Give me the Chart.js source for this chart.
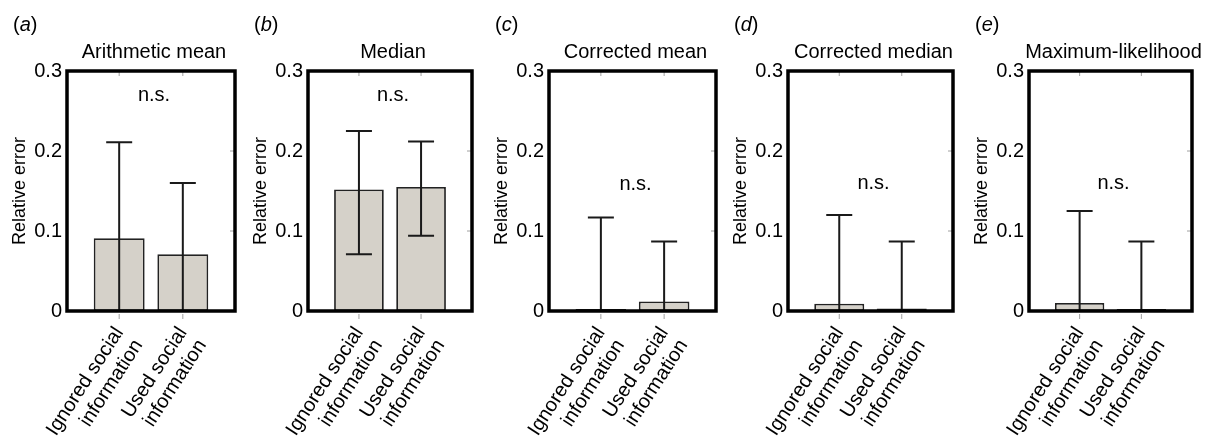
<!DOCTYPE html>
<html><head><meta charset="utf-8">
<script src="https://cdn.jsdelivr.net/npm/chart.js@4.4.0/dist/chart.umd.min.js"></script>
<style>
html,body{margin:0;padding:0;background:#fff;}
#wrap{position:relative;width:1211px;height:444px;overflow:hidden;background:#fff;}
canvas{position:absolute;top:0;}
</style></head><body><div id="wrap"></div>
<script>
// ---- data ----
const categories = [['Ignored social', 'information'], ['Used social', 'information']];
const panelLetters = ['a', 'b', 'c', 'd', 'e'];
const panelTitles = ['Arithmetic mean', 'Median', 'Corrected mean', 'Corrected median', 'Maximum-likelihood'];
const ignoredValues = [0.091, 0.152, 0.001, 0.009, 0.010];
const usedValues    = [0.071, 0.155, 0.012, 0.003, 0.001];
const ignoredLower  = [-0.03, 0.071, -0.114, -0.102, -0.105];
const ignoredUpper  = [0.211, 0.225, 0.117, 0.120, 0.125];
const usedLower     = [-0.02, 0.094, -0.063, -0.081, -0.085];
const usedUpper     = [0.160, 0.212, 0.087, 0.087, 0.087];
const yTickValues   = [0, 0.1, 0.2, 0.3];
const nsLevel       = [0.270, 0.270, 0.158, 0.160, 0.160];

// ---- style / layout ----
const FONT = '"Liberation Sans", Arial, Helvetica, sans-serif';
const panelBoxes = [{left: 0, w: 168}, {left: 241, w: 164}, {left: 482, w: 167}, {left: 721, w: 165}, {left: 962, w: 163}];
const AXIS_W = 67, CANVAS_H = 444, X_AXIS_H = 133, PAD_R = 2, TOP = 71, EXTRA = 40;

const panelPlugin = {
  id: 'panelDeco',
  afterDatasetsDraw(chart, args, opts) {
    const {ctx, chartArea: a, scales: {x, y}} = chart;
    // error bars
    ctx.save();
    ctx.beginPath();
    ctx.rect(a.left, a.top, a.right - a.left, a.bottom - a.top);
    ctx.clip();
    ctx.strokeStyle = '#1a1a1a';
    ctx.lineWidth = 2;
    const meta = chart.getDatasetMeta(0);
    meta.data.forEach((bar, i) => {
      const lo = y.getPixelForValue(opts.lower[i]);
      const hi = y.getPixelForValue(opts.upper[i]);
      const cx = bar.x, cap = 13;
      ctx.beginPath();
      ctx.moveTo(cx, lo); ctx.lineTo(cx, hi);
      ctx.moveTo(cx - cap, hi); ctx.lineTo(cx + cap, hi);
      ctx.moveTo(cx - cap, lo); ctx.lineTo(cx + cap, lo);
      ctx.stroke();
    });
    ctx.restore();

    // n.s. label
    ctx.save();
    ctx.fillStyle = '#000';
    ctx.font = '20px ' + FONT;
    ctx.textAlign = 'center';
    ctx.textBaseline = 'middle';
    ctx.fillText('n.s.', x.getPixelForValue(1.5) + 3, y.getPixelForValue(opts.ns));
    ctx.restore();

    // faint inner ticks
    ctx.save();
    ctx.strokeStyle = '#a0a0a0';
    ctx.lineWidth = 1;
    ctx.beginPath();
    [1, 2].forEach(v => {
      const px = x.getPixelForValue(v);
      ctx.moveTo(px, a.top); ctx.lineTo(px, a.top + 5);
      ctx.moveTo(px, a.bottom + 3); ctx.lineTo(px, a.bottom + 8);
    });
    [0.1, 0.2].forEach(v => {
      const py = y.getPixelForValue(v);
      ctx.moveTo(a.right, py); ctx.lineTo(a.right - 5, py);
    });
    ctx.stroke();
    ctx.restore();

    // frame
    ctx.save();
    ctx.strokeStyle = '#000';
    ctx.lineWidth = 3.5;
    ctx.strokeRect(a.left, a.top, a.right - a.left, a.bottom - a.top);
    ctx.restore();

    // panel title
    ctx.save();
    ctx.fillStyle = '#000';
    ctx.font = '20px ' + FONT;
    ctx.textAlign = 'center';
    ctx.textBaseline = 'middle';
    ctx.fillText(opts.title, (a.left + a.right) / 2 + 3, 52);
    ctx.restore();

    // panel letter "(a)"
    ctx.save();
    ctx.fillStyle = '#000';
    ctx.textBaseline = 'middle';
    ctx.textAlign = 'left';
    let px = 13;
    const py = 25;
    ctx.font = '20px ' + FONT;
    ctx.fillText('(', px, py); px += ctx.measureText('(').width;
    ctx.font = 'italic 20px ' + FONT;
    ctx.fillText(opts.letter, px, py); px += ctx.measureText(opts.letter).width;
    ctx.font = '20px ' + FONT;
    ctx.fillText(')', px, py);
    ctx.restore();
  }
};

const wrap = document.getElementById('wrap');
panelTitles.forEach((title, p) => {
  const box = panelBoxes[p];
  const canvas = document.createElement('canvas');
  const cw = AXIS_W + box.w + PAD_R + EXTRA;
  canvas.width = cw; canvas.height = CANVAS_H;
  canvas.style.left = box.left + 'px';
  canvas.style.width = cw + 'px'; canvas.style.height = CANVAS_H + 'px';
  wrap.appendChild(canvas);

  const values = [ignoredValues[p], usedValues[p]];
  new Chart(canvas, {
    type: 'bar',
    data: {
      datasets: [{
        data: values.map((v, i) => ({x: i + 1, y: v})),
        backgroundColor: '#d5d1c9',
        borderColor: '#222',
        borderWidth: 1.8,
        borderSkipped: false,
        minBarLength: 2,
        categoryPercentage: 1,
        barPercentage: 0.8
      }]
    },
    options: {
      responsive: false,
      animation: false,
      devicePixelRatio: 1,
      layout: {padding: {left: 0, right: PAD_R + EXTRA, top: TOP, bottom: 0}},
      plugins: {
        legend: {display: false},
        tooltip: {enabled: false},
        title: {display: false},
        panelDeco: {
          letter: panelLetters[p],
          title: title,
          lower: [ignoredLower[p], usedLower[p]],
          upper: [ignoredUpper[p], usedUpper[p]],
          ns: nsLevel[p]
        }
      },
      scales: {
        x: {
          type: 'linear', min: 0.18, max: 2.82, offset: false,
          grid: {display: false, drawTicks: false},
          border: {display: false},
          afterBuildTicks: s => { s.ticks = [{value: 1}, {value: 2}]; },
          afterFit: s => { s.height = X_AXIS_H; },
          ticks: {
            autoSkip: false, minRotation: 57, maxRotation: 57, padding: 12,
            color: '#000', font: {family: FONT, size: 20, lineHeight: 1.15},
            callback: v => categories[v - 1]
          }
        },
        y: {
          min: 0, max: 0.3,
          grid: {display: false, drawTicks: false},
          border: {display: false},
          afterBuildTicks: s => { s.ticks = yTickValues.map(v => ({value: v})); },
          afterFit: s => { s.width = AXIS_W; },
          ticks: {
            padding: 5, color: '#000', font: {family: FONT, size: 20},
            callback: v => (v === 0 ? '0' : v.toFixed(1))
          },
          title: {
            display: true, text: 'Relative error', color: '#000',
            font: {family: FONT, size: 18}, padding: {top: 9, bottom: 0}
          }
        }
      }
    },
    plugins: [panelPlugin]
  });
});
</script>
</body></html>
